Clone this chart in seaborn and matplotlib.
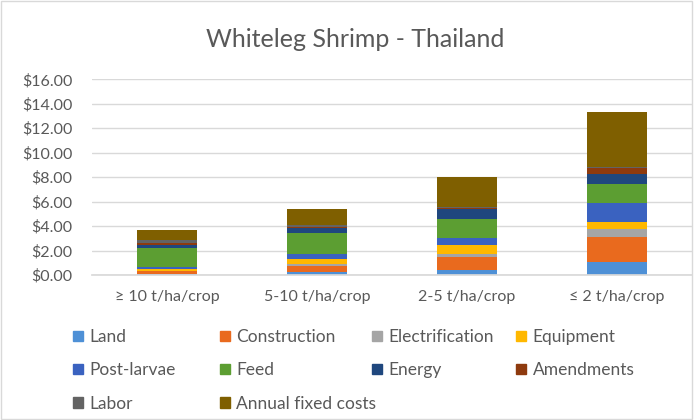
# stacked cost breakdown for whiteleg shrimp farms in Thailand
import numpy as np
import matplotlib.pyplot as plt
import seaborn as sns

# data (USD per kg)
categories = ["\u2265 10 t/ha/crop", "5-10 t/ha/crop", "2-5 t/ha/crop", "\u2264 2 t/ha/crop"]
land = [0.05, 0.25, 0.41, 1.05]
construction = [0.25, 0.51, 1.09, 2.04]
electrification = [0.05, 0.11, 0.22, 0.68]
equipment = [0.15, 0.41, 0.71, 0.60]
post_larvae = [0.18, 0.41, 0.60, 1.55]
feed = [1.55, 1.74, 1.55, 1.53]
energy = [0.20, 0.39, 0.79, 0.84]
amendments = [0.21, 0.13, 0.13, 0.47]
labor = [0.22, 0.11, 0.03, 0.04]
annual_fixed = [0.82, 1.34, 2.46, 4.50]

series = [
    ("Land", land, "#4E90D6"),
    ("Construction", construction, "#E96A1E"),
    ("Electrification", electrification, "#A5A5A5"),
    ("Equipment", equipment, "#FFB800"),
    ("Post-larvae", post_larvae, "#3A62C0"),
    ("Feed", feed, "#5C9E32"),
    ("Energy", energy, "#1F477E"),
    ("Amendments", amendments, "#8E3A0E"),
    ("Labor", labor, "#636363"),
    ("Annual fixed costs", annual_fixed, "#7F5F00"),
]

sns.set_theme(style="white")
plt.rcParams["font.family"] = ["Lato", "DejaVu Sans"]

fig = plt.figure(figsize=(6.96, 4.2), dpi=100)
ax = fig.add_axes([92 / 696, 1 - 275 / 420, 600 / 696, (275 - 79.3) / 420])

bottom = np.zeros(len(categories))
handles = {}
for name, vals, col in series:
    sns.barplot(x=categories, y=vals, bottom=bottom, color=col, width=0.4,
                saturation=1, ax=ax, linewidth=0)
    handles[name] = plt.Rectangle((0, 0), 1, 1, color=col)
    bottom += np.array(vals)

ax.set_ylim(0, 16)
ax.set_xlim(-0.5, 3.5)
ax.set_yticks(np.arange(0, 17, 2))
ax.set_yticklabels([f"${v:.2f}" for v in np.arange(0, 17, 2)])
ax.yaxis.grid(True, color="#d9d9d9", linewidth=1)
ax.set_axisbelow(True)
for s in ["top", "right", "left"]:
    ax.spines[s].set_visible(False)
ax.spines["bottom"].set_color("#d9d9d9")
ax.tick_params(axis="both", length=0, labelsize=11.5, colors="#595959")
ax.tick_params(axis="y", pad=14)
ax.tick_params(axis="x", pad=11)
ax.set_xlabel("")
ax.set_ylabel("")

fig.text(0.51, 0.905, "Whiteleg Shrimp - Thailand", ha="center", va="center",
         fontsize=18, color="#595959")

# legend: four fixed-width columns, filled row by row
legend_cols = [
    (73, ["Land", "Post-larvae", "Labor"]),
    (220, ["Construction", "Feed", "Annual fixed costs"]),
    (372, ["Electrification", "Energy"]),
    (516, ["Equipment", "Amendments"]),
]
for x0, names in legend_cols:
    leg = fig.legend([handles[n] for n in names], names, loc="upper left",
                     bbox_to_anchor=(x0 / 696, 1 - 329 / 420),
                     frameon=False, fontsize=12.5, labelcolor="#595959",
                     handlelength=0.55, handleheight=0.55, handletextpad=0.4,
                     labelspacing=1.0, borderpad=0, borderaxespad=0)

fig.patches.append(plt.Rectangle((0.002, 0.003), 0.992, 0.994, transform=fig.transFigure,
                                 fill=False, edgecolor="#d9d9d9", linewidth=1))

fig.savefig("out.png", dpi=100)
